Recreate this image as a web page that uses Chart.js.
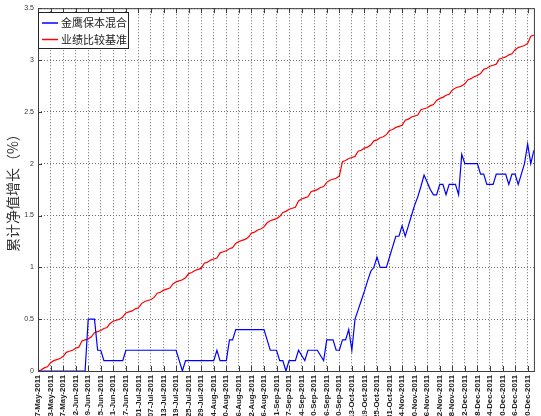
<!DOCTYPE html>
<html>
<head>
<meta charset="utf-8">
<script src="https://cdn.jsdelivr.net/npm/chart.js@4"></script>
<style>
  html, body { margin: 0; padding: 0; background: #fff; }
  #wrap { width: 541px; height: 416px; }
</style>
</head>
<body>
<div id="wrap"><canvas id="graph" width="541" height="416"></canvas></div>
<script>
// tick labels, one every 4 trading days (index 0 = 17-May-2011)
const tickLabels = [
  '17-May-2011', '23-May-2011', '27-May-2011', '02-Jun-2011', '09-Jun-2011',
  '15-Jun-2011', '21-Jun-2011', '27-Jun-2011', '01-Jul-2011', '07-Jul-2011',
  '13-Jul-2011', '19-Jul-2011', '25-Jul-2011', '29-Jul-2011', '04-Aug-2011',
  '10-Aug-2011', '16-Aug-2011', '22-Aug-2011', '26-Aug-2011', '01-Sep-2011',
  '07-Sep-2011', '14-Sep-2011', '20-Sep-2011', '26-Sep-2011', '30-Sep-2011',
  '13-Oct-2011', '19-Oct-2011', '25-Oct-2011', '31-Oct-2011', '04-Nov-2011',
  '10-Nov-2011', '16-Nov-2011', '22-Nov-2011', '28-Nov-2011', '02-Dec-2011',
  '08-Dec-2011', '14-Dec-2011', '20-Dec-2011', '26-Dec-2011', '30-Dec-2011'
];

const yTickLabels = ['0', '0.5', '1', '1.5', '2', '2.5', '3', '3.5'];

const seriesNames = ['金鹰保本混合', '业绩比较基准'];

// fund cumulative NAV growth (%), one value per trading day
const fundValues = [
  0, 0, 0, 0, 0, 0, 0, 0, 0, 0,
  0, 0, 0, 0, 0, 0, 0.5, 0.5, 0.5, 0.2,
  0.2, 0.1, 0.1, 0.1, 0.1, 0.1, 0.1, 0.1, 0.2, 0.2,
  0.2, 0.2, 0.2, 0.2, 0.2, 0.2, 0.2, 0.2, 0.2, 0.2,
  0.2, 0.2, 0.2, 0.2, 0.2, 0.1, 0, 0.1, 0.1, 0.1,
  0.1, 0.1, 0.1, 0.1, 0.1, 0.1, 0.1, 0.2, 0.1, 0.1,
  0.1, 0.3, 0.3, 0.4, 0.4, 0.4, 0.4, 0.4, 0.4, 0.4,
  0.4, 0.4, 0.4, 0.3, 0.2, 0.2, 0.2, 0.1, 0.1, 0,
  0.1, 0.1, 0.1, 0.2, 0.15, 0.1, 0.2, 0.2, 0.2, 0.2,
  0.15, 0.1, 0.3, 0.3, 0.3, 0.2, 0.2, 0.3, 0.3, 0.4,
  0.2, 0.5, 0.59, 0.68, 0.77, 0.87, 0.96, 1.0, 1.1, 1.0,
  1.0, 1.0, 1.1, 1.2, 1.3, 1.3, 1.4, 1.3, 1.4, 1.5,
  1.6, 1.68, 1.78, 1.89, 1.82, 1.75, 1.7, 1.7, 1.8, 1.8,
  1.7, 1.8, 1.8, 1.8, 1.7, 2.09, 2.0, 2.0, 2.0, 2.0,
  2.0, 1.9, 1.9, 1.8, 1.8, 1.8, 1.9, 1.9, 1.9, 1.9,
  1.8, 1.9, 1.9, 1.8, 1.9, 2.0, 2.19, 2.0, 2.13
];

// benchmark cumulative growth (%), one value per trading day
const benchValues = [
  0.00, 0.01, 0.03, 0.04, 0.08, 0.10, 0.11, 0.12, 0.14, 0.18,
  0.19, 0.20, 0.22, 0.23, 0.29, 0.30, 0.31, 0.33, 0.37, 0.38,
  0.39, 0.41, 0.42, 0.46, 0.48, 0.49, 0.50, 0.52, 0.56, 0.57,
  0.58, 0.60, 0.61, 0.65, 0.67, 0.68, 0.69, 0.71, 0.75, 0.76,
  0.78, 0.79, 0.80, 0.84, 0.86, 0.87, 0.88, 0.90, 0.94, 0.95,
  0.97, 0.98, 0.99, 1.04, 1.05, 1.07, 1.08, 1.09, 1.14, 1.15,
  1.16, 1.18, 1.19, 1.23, 1.25, 1.26, 1.27, 1.29, 1.33, 1.34,
  1.36, 1.37, 1.39, 1.43, 1.45, 1.46, 1.47, 1.49, 1.53, 1.54,
  1.56, 1.57, 1.58, 1.64, 1.66, 1.67, 1.68, 1.73, 1.74, 1.75,
  1.77, 1.78, 1.82, 1.84, 1.85, 1.86, 1.88, 2.02, 2.03, 2.05,
  2.06, 2.07, 2.12, 2.13, 2.15, 2.16, 2.18, 2.22, 2.23, 2.25,
  2.26, 2.28, 2.32, 2.33, 2.35, 2.36, 2.37, 2.42, 2.43, 2.45,
  2.46, 2.47, 2.52, 2.53, 2.54, 2.56, 2.57, 2.61, 2.63, 2.64,
  2.66, 2.67, 2.71, 2.73, 2.74, 2.75, 2.77, 2.81, 2.82, 2.84,
  2.85, 2.87, 2.91, 2.92, 2.94, 2.95, 2.96, 3.01, 3.02, 3.03,
  3.05, 3.06, 3.10, 3.12, 3.13, 3.14, 3.16, 3.23, 3.24
];

const axisColor = '#3c3c3c';
const gridColor = '#6e6e6e';

// matlab style frame, inner tick marks and boxed legend
const framePlugin = {
  id: 'frame',
  afterDraw(chart) {
    const { ctx, chartArea: a, scales } = chart;
    ctx.save();
    ctx.strokeStyle = axisColor;
    ctx.lineWidth = 1;
    ctx.strokeRect(a.left + 0.5, a.top + 0.5, a.right - a.left, a.bottom - a.top);

    ctx.beginPath();
    scales.x.ticks.forEach(t => {
      const x = Math.round(scales.x.getPixelForValue(t.value)) + 0.5;
      ctx.moveTo(x, a.bottom); ctx.lineTo(x, a.bottom - 5);
      ctx.moveTo(x, a.top); ctx.lineTo(x, a.top + 5);
    });
    scales.y.ticks.forEach(t => {
      const y = Math.round(scales.y.getPixelForValue(t.value)) + 0.5;
      ctx.moveTo(a.left, y); ctx.lineTo(a.left + 4, y);
    });
    ctx.stroke();

    // legend
    const lx = 38, ly = 12, lw = 90, lh = 36;
    ctx.fillStyle = '#fff';
    ctx.fillRect(lx, ly, lw, lh);
    ctx.strokeStyle = '#222';
    ctx.strokeRect(lx + 0.5, ly + 0.5, lw, lh);
    ctx.font = '11px "Noto Sans CJK SC"';
    ctx.textBaseline = 'middle';
    chart.data.datasets.forEach((ds, i) => {
      const y = ly + 11 + i * 16.5;
      ctx.strokeStyle = ds.borderColor;
      ctx.lineWidth = 1.5;
      ctx.beginPath();
      ctx.moveTo(lx + 4, y); ctx.lineTo(lx + 20, y);
      ctx.stroke();
      ctx.fillStyle = '#222';
      ctx.fillText(ds.label, lx + 23, y);
    });
    ctx.restore();
  }
};

new Chart(document.getElementById('graph'), {
  type: 'line',
  data: {
    datasets: [
      {
        label: seriesNames[0],
        data: fundValues.map((v, i) => ({ x: i, y: v })),
        borderColor: '#0000ff',
        borderWidth: 1.2,
        pointRadius: 0,
        tension: 0
      },
      {
        label: seriesNames[1],
        data: benchValues.map((v, i) => ({ x: i, y: v })),
        borderColor: '#ff0000',
        borderWidth: 1.2,
        pointRadius: 0,
        tension: 0
      }
    ]
  },
  options: {
    responsive: false,
    animation: false,
    layout: { padding: { top: 8, left: 0, right: 0, bottom: 0 } },
    plugins: {
      legend: { display: false },
      tooltip: { enabled: false }
    },
    scales: {
      x: {
        type: 'linear',
        min: 0,
        max: fundValues.length - 1,
        afterFit: (scale) => { scale.height = 45; },
        border: { display: false, dash: [1, 2] },
        grid: { color: gridColor, lineWidth: 1, drawTicks: false },
        ticks: {
          stepSize: 4,
          includeBounds: false,
          autoSkip: false,
          maxRotation: 90,
          minRotation: 90,
          padding: 4,
          color: '#222',
          font: { family: 'Liberation Sans', size: 7.8, weight: 'bold' },
          callback: (v) => tickLabels[v / 4]
        }
      },
      y: {
        min: 0,
        max: 3.5,
        afterFit: (scale) => { scale.width = 38; },
        border: { display: false, dash: [1, 2] },
        grid: { color: gridColor, lineWidth: 1, drawTicks: false },
        ticks: {
          stepSize: 0.5,
          padding: 4,
          color: '#333',
          font: { family: 'Liberation Sans', size: 7 },
          callback: (v) => yTickLabels[Math.round(v * 2)]
        },
        title: {
          display: true,
          text: '累计净值增长（%）',
          color: '#333',
          padding: { top: 4, bottom: 0 },
          font: { family: 'Noto Sans CJK SC', size: 14 }
        }
      }
    }
  },
  plugins: [framePlugin]
});
</script>
</body>
</html>
